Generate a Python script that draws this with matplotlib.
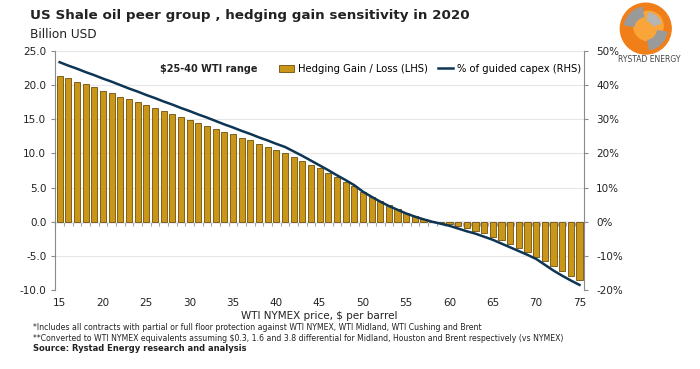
import numpy as np
import matplotlib.pyplot as plt
from matplotlib.patches import Circle, Wedge
from matplotlib.lines import Line2D
from matplotlib.patches import Patch

# WTI price, $/bbl
prices = np.arange(15, 76)

# hedging gain / loss, billion USD (LHS)
gain = [21.4, 21.0, 20.5, 20.1, 19.7, 19.2, 18.8, 18.3, 17.9, 17.5,
        17.1, 16.6, 16.2, 15.8, 15.3, 14.9, 14.5, 14.0, 13.6, 13.2,
        12.8, 12.3, 11.9, 11.4, 10.9, 10.5, 10.1, 9.5, 8.9, 8.3,
        7.8, 7.1, 6.5, 5.8, 5.2, 4.4, 3.6, 3.0, 2.4, 1.8,
        1.3, 0.8, 0.45, 0.1, -0.15, -0.35, -0.6, -0.95, -1.3, -1.7,
        -2.2, -2.7, -3.2, -3.9, -4.5, -5.1, -5.7, -6.5, -7.2, -7.9,
        -8.5]

# % of guided capex (RHS)
capex_pct = [46.7, 45.7, 44.8, 43.8, 42.9, 41.9, 41.0, 40.0, 39.0, 38.1,
             37.1, 36.2, 35.2, 34.3, 33.3, 32.4, 31.4, 30.5, 29.5, 28.5,
             27.6, 26.6, 25.7, 24.7, 23.8, 22.8, 21.9, 20.6, 19.3, 17.9,
             16.5, 15.1, 13.6, 12.2, 10.7, 8.8, 7.3, 5.9, 4.6, 3.5,
             2.4, 1.5, 0.7, 0.0, -0.6, -1.2, -2.0, -2.8, -3.5, -4.4,
             -5.3, -6.4, -7.5, -8.6, -9.7, -10.9, -12.6, -14.3, -15.8, -17.2,
             -18.5]

left_ticks = [25, 20, 15, 10, 5, 0, -5, -10]
right_ticks = [50, 40, 30, 20, 10, 0, -10, -20]
x_ticks = list(range(15, 76, 5))

bar_color = '#C9961A'
line_color = '#0E3554'
txt = '#222222'
axis_grey = '#8a8a8a'

fig = plt.figure(figsize=(7, 3.69), dpi=100)
ax = fig.add_axes([0.079, 0.214, 0.755, 0.648])
ax2 = ax.twinx()

ax.bar(prices, gain, width=0.7, color=bar_color, edgecolor='#6e4f0c', linewidth=0.6, zorder=3)
ax.set_ylim(-10, 25)
ax.set_xlim(14.5, 75.5)
ax.set_yticks(left_ticks)
ax.set_yticklabels([f'{v:.1f}' for v in left_ticks])
ax.yaxis.grid(True, color='#e6e6e6', linewidth=0.8, zorder=0)
ax.set_axisbelow(True)
ax.set_xticks(x_ticks)
ax.tick_params(axis='x', length=0, labelsize=7.5, colors=txt, pad=6)
ax.tick_params(axis='y', direction='out', length=3, color=axis_grey, labelsize=7.5, labelcolor=txt)
for s in ['top', 'bottom', 'right']:
    ax.spines[s].set_visible(False)
ax.spines['left'].set_color(axis_grey)

# category axis drawn along zero
zero_ax = ax.secondary_xaxis(10 / 35)
zero_ax.set_xticks(np.arange(14.5, 76, 1))
zero_ax.tick_params(axis='x', direction='out', length=3, color='#9aa7b5', labelbottom=False, labeltop=False)
zero_ax.spines['bottom'].set_color('#9aa7b5')
zero_ax.spines['bottom'].set_linewidth(1.0)

ax2.plot(prices, capex_pct, color=line_color, linewidth=1.8, zorder=4)
ax2.set_ylim(-20, 50)
ax2.set_yticks(right_ticks)
ax2.set_yticklabels([f'{v}%' for v in right_ticks])
ax2.tick_params(axis='y', direction='out', length=3, color=axis_grey, labelsize=7.5, labelcolor=txt, pad=6)
for s in ['top', 'bottom', 'left']:
    ax2.spines[s].set_visible(False)
ax2.spines['right'].set_color(axis_grey)

ax.set_xlabel('WTI NYMEX price, $ per barrel', fontsize=7.5, color=txt, labelpad=2)

ax.text(0.198, 0.925, '$25-40 WTI range', transform=ax.transAxes, fontsize=7.0,
        fontweight='bold', color=txt, va='center')

handles = [Patch(facecolor=bar_color, edgecolor='#6e4f0c', linewidth=0.6),
           Line2D([0], [0], color=line_color, linewidth=1.8)]
ax.legend(handles, ['Hedging Gain / Loss (LHS)', '% of guided capex (RHS)'],
          loc='center right', bbox_to_anchor=(1.003, 0.925), ncol=2, frameon=False,
          fontsize=7.2, handlelength=1.5, handleheight=0.8, handletextpad=0.4,
          columnspacing=1.0, borderaxespad=0)

fig.text(0.043, 0.958, 'US Shale oil peer group , hedging gain sensitivity in 2020',
         fontsize=9.7, fontweight='bold', color='#222222', va='center')
fig.text(0.043, 0.907, 'Billion USD', fontsize=8.7, color=txt, va='center')

foot_font = ['Liberation Sans Narrow', 'DejaVu Sans']
fig.text(0.047, 0.113, '*Includes all contracts with partial or full floor protection against WTI NYMEX, WTI Midland, WTI Cushing and Brent',
         fontsize=5.6, family=foot_font, color=txt, va='center')
fig.text(0.047, 0.083, '**Converted to WTI NYMEX equivalents assuming $0.3, 1.6 and 3.8 differential for Midland, Houston and Brent respectively (vs NYMEX)',
         fontsize=5.6, family=foot_font, color=txt, va='center')
fig.text(0.047, 0.055, 'Source: Rystad Energy research and analysis', fontsize=6.0,
         fontweight='bold', color=txt, va='center')

# logo
lax = fig.add_axes([0.875, 0.85, 0.095, 0.145])
lax.set_xlim(-1, 1)
lax.set_ylim(-1, 1)
lax.set_aspect('equal')
lax.axis('off')
lax.add_patch(Circle((0, 0), 0.95, color='#F07F1A'))
lax.add_patch(Circle((0.1, 0.1), 0.55, color='#F9A53A'))
lax.add_patch(Wedge((0, 0), 0.8, 100, 170, width=0.35, color='#9a9a9a'))
lax.add_patch(Wedge((0, 0), 0.8, 280, 350, width=0.35, color='#9a9a9a'))
lax.add_patch(Wedge((0, 0), 0.6, 20, 80, width=0.3, color='#b5b5b5'))
fig.text(0.927, 0.84, 'RYSTAD ENERGY', fontsize=5.5, color='#444444', ha='center', va='center')

fig.savefig('out.png', dpi=100)
